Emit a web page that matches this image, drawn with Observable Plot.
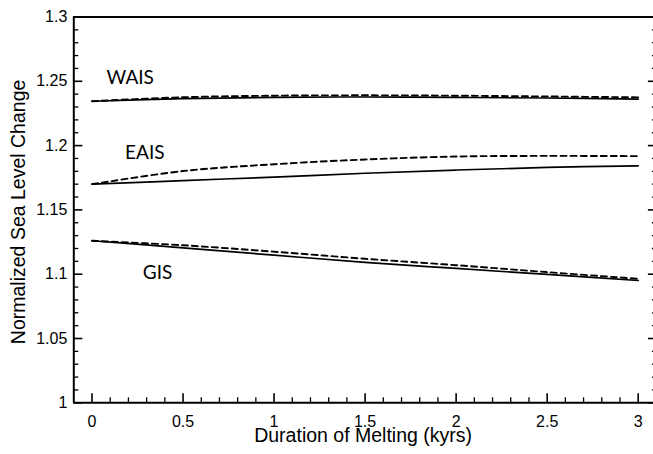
<!DOCTYPE html>
<html>
<head>
<meta charset="utf-8">
<script src="https://cdn.jsdelivr.net/npm/d3@7"></script>
<script src="https://cdn.jsdelivr.net/npm/@observablehq/plot@0.6"></script>
<style>
  html, body { margin: 0; padding: 0; background: #fff; }
  #chart svg { display: block; }
</style>
</head>
<body>
<div id="chart"></div>
<script>
// Duration of melting (kyrs)
const kyrs = [0, 0.5, 1, 1.5, 2, 2.5, 3];

// Normalized sea level change, solid and dashed curves per ice sheet
const waisSolid  = [1.2345, 1.2365, 1.2375, 1.2378, 1.2375, 1.2370, 1.2362];
const waisDashed = [1.2345, 1.2376, 1.2388, 1.2391, 1.2388, 1.2382, 1.2375];
const eaisSolid  = [1.1700, 1.1728, 1.1755, 1.1785, 1.1810, 1.1830, 1.1843];
const eaisDashed = [1.1700, 1.1802, 1.1855, 1.1892, 1.1915, 1.1920, 1.1918];
const gisSolid   = [1.1260, 1.1205, 1.1148, 1.1092, 1.1045, 1.0998, 1.0951];
const gisDashed  = [1.1260, 1.1225, 1.1175, 1.1120, 1.1070, 1.1016, 1.0964];

// Curve labels
const labelNames = ["WAIS", "EAIS", "GIS"];
const labelX = [0.21, 0.29, 0.36];
const labelY = [1.2530, 1.1946, 1.1013];

// Axis ticks
const xMajor = [0, 0.5, 1, 1.5, 2, 2.5, 3];
const xMinor = d3.range(0, 31).map(i => i / 10).filter(v => Math.round(v * 10) % 5 !== 0);
const yMajor = [1, 1.05, 1.1, 1.15, 1.2, 1.25, 1.3];
const yMinor = d3.range(100, 131).map(i => i / 100).filter(v => Math.round(v * 100) % 5 !== 0);

const seriesDefs = [
  {sheet: "WAIS", style: "solid", values: waisSolid},
  {sheet: "WAIS", style: "dashed", values: waisDashed},
  {sheet: "EAIS", style: "solid", values: eaisSolid},
  {sheet: "EAIS", style: "dashed", values: eaisDashed},
  {sheet: "GIS", style: "solid", values: gisSolid},
  {sheet: "GIS", style: "dashed", values: gisDashed}
];
const rows = seriesDefs.flatMap(s => s.values.map((v, i) => ({sheet: s.sheet, style: s.style, x: kyrs[i], y: v})));
const solidRows = rows.filter(d => d.style === "solid");
const dashedRows = rows.filter(d => d.style === "dashed");
const labels = labelNames.map((n, i) => ({name: n, x: labelX[i], y: labelY[i]}));

const fmt = v => String(+v.toFixed(2));

const chart = Plot.plot({
  width: 653,
  height: 454,
  marginLeft: 73.3,
  marginRight: -2.9,
  marginTop: 16.5,
  marginBottom: 51.7,
  x: {domain: [-0.1, 3.1]},
  y: {domain: [1, 1.3]},
  style: {fontFamily: "'Liberation Sans', Arial, sans-serif", fontSize: "16px", color: "black", background: "white"},
  marks: [
    // frame
    Plot.ruleY([1, 1.3], {stroke: "black", strokeWidth: 2}),
    Plot.ruleX([-0.1, 3.1], {stroke: "black", strokeWidth: 2}),
    // y axes (left with labels, right ticks only), inward ticks
    Plot.axisY(yMajor, {anchor: "left", tickSize: -9, tickPadding: 15.5, strokeWidth: 1.6, tickFormat: fmt, label: null}),
    Plot.axisY(yMinor, {anchor: "left", tickSize: -5, tickFormat: () => "", strokeWidth: 1.3, label: null}),
    Plot.axisY(yMajor, {anchor: "right", tickSize: -9, strokeWidth: 1.6, tickFormat: () => "", label: null}),
    Plot.axisY(yMinor, {anchor: "right", tickSize: -5, tickFormat: () => "", strokeWidth: 1.3, label: null}),
    // x axis
    Plot.axisX(xMajor, {anchor: "bottom", tickSize: -9, tickPadding: 21.5, strokeWidth: 1.6, tickFormat: fmt, label: null}),
    Plot.axisX(xMinor, {anchor: "bottom", tickSize: -5, tickFormat: () => "", strokeWidth: 1.3, label: null}),
    // axis titles
    Plot.text(["Normalized Sea Level Change"], {frameAnchor: "left", textAnchor: "middle", dx: -55, dy: 2, rotate: -90, fontSize: 19.5, fill: "black"}),
    Plot.text(["Duration of Melting (kyrs)"], {frameAnchor: "bottom", textAnchor: "middle", dy: 39, dx: -2, fontSize: 19.5, fill: "black"}),
    // curves
    Plot.line(solidRows, {x: "x", y: "y", z: "sheet", stroke: "black", strokeWidth: 1.7, curve: "catmull-rom"}),
    Plot.line(dashedRows, {x: "x", y: "y", z: "sheet", stroke: "black", strokeWidth: 1.9, strokeDasharray: "6,4", curve: "catmull-rom"}),
    // curve labels
    Plot.text(labels, {x: "x", y: "y", text: "name", fontFamily: "Lato, 'Open Sans', sans-serif", fontSize: 19, fill: "black"})
  ]
});
document.getElementById("chart").appendChild(chart);
</script>
</body>
</html>
